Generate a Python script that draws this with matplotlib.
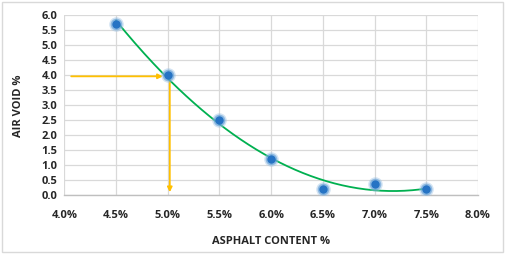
import numpy as np
import matplotlib.pyplot as plt
from matplotlib.patches import FancyBboxPatch
from matplotlib.ticker import MultipleLocator, FuncFormatter

# data
asphalt_content = [4.5, 5.0, 5.5, 6.0, 6.5, 7.0, 7.5]
air_void = [5.7, 4.0, 2.5, 1.2, 0.2, 0.35, 0.2]
target_content = 5.0
target_void = 3.95

plt.rcParams['font.family'] = ['Open Sans', 'DejaVu Sans']

fig = plt.figure(figsize=(5.05, 2.54), dpi=100)
ax = fig.add_axes([0.1273, 0.2323, 0.8192, 0.7097])

# trendline
coef = np.polyfit(asphalt_content, air_void, 2)
xs = np.linspace(asphalt_content[0], asphalt_content[-1], 200)
ax.plot(xs, np.polyval(coef, xs), color='#00b050', lw=1.3, zorder=3)

# markers with soft halo
ax.scatter(asphalt_content, air_void, s=110, color='#9dc3e6', alpha=0.45, lw=0, zorder=4)
ax.scatter(asphalt_content, air_void, s=70, color='#5b9bd5', alpha=0.6, lw=0, zorder=4)
ax.scatter(asphalt_content, air_void, s=36, color='#2673c4', lw=0, zorder=5)

# orange guide arrows
arrow_kw = dict(arrowstyle='-|>', color='#ffc000', lw=1.3, mutation_scale=7)
ax.annotate('', xy=(target_content - 0.02, target_void), xytext=(4.04, target_void),
            arrowprops=arrow_kw, zorder=2)
ax.annotate('', xy=(target_content + 0.02, 0.0), xytext=(target_content + 0.02, target_void),
            arrowprops=arrow_kw, zorder=2)

ax.set_xlim(4.0, 8.0)
ax.set_ylim(0.0, 6.0)
ax.xaxis.set_major_locator(MultipleLocator(0.5))
ax.yaxis.set_major_locator(MultipleLocator(0.5))
ax.xaxis.set_major_formatter(FuncFormatter(lambda v, p: f"{v:.1f}%"))
ax.yaxis.set_major_formatter(FuncFormatter(lambda v, p: f"{v:.1f}"))
ax.grid(True, color='#d9d9d9', lw=0.9)
ax.set_axisbelow(True)
for s in ['top', 'right', 'left']:
    ax.spines[s].set_visible(False)
ax.spines['bottom'].set_color('#bfbfbf')
ax.spines['bottom'].set_linewidth(1.0)
ax.tick_params(length=0, labelsize=8, labelcolor='#262626', pad=5)
for lab in ax.get_xticklabels() + ax.get_yticklabels():
    lab.set_fontweight('bold')
ax.tick_params(axis='x', pad=11)

fig.text(0.537, 0.05, 'ASPHALT CONTENT %', ha='center', va='center',
         fontsize=8, fontweight='bold', color='#262626')
fig.text(0.036, 0.585, 'AIR VOID %', ha='center', va='center', rotation=90,
         fontsize=8, fontweight='bold', color='#262626')

# chart border
fig.patches.append(FancyBboxPatch((0.004, 0.008), 0.992, 0.984, boxstyle='square,pad=0',
                                  transform=fig.transFigure, fill=False,
                                  edgecolor='#d9d9d9', lw=1.0))

fig.savefig('out.png', dpi=100)
